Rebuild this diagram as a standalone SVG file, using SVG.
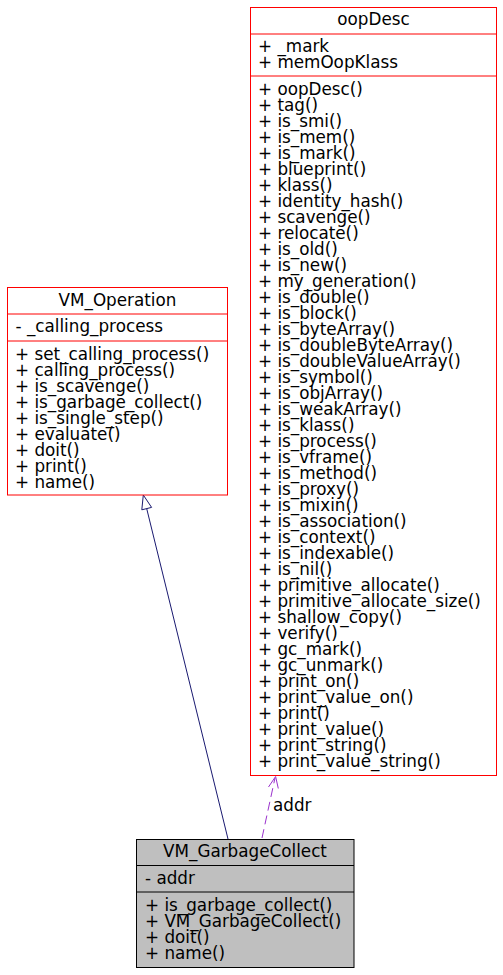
<svg xmlns="http://www.w3.org/2000/svg" width="503" height="975" viewBox="0 0 503 975">
<style>
text{font-family:"DejaVu Sans","Liberation Sans",sans-serif;font-size:16.8px;fill:#000}
.t{text-anchor:middle}
.box{fill:#fff;stroke:#ff0000;stroke-width:1}
.sep{stroke:#ff0000;stroke-width:1}
.gbox{fill:#bfbfbf;stroke:#000;stroke-width:1}
.gsep{stroke:#000;stroke-width:1}
</style>
<rect width="503" height="975" fill="#fff"/>
<g id="connectors">
<line x1="228" y1="839" x2="146.7" y2="508.6" stroke="#191970" stroke-width="1"/>
<polygon points="143.3,495 151.6,507.4 141.8,509.8" fill="#fff" stroke="#191970" stroke-width="1"/>
<line x1="262" y1="838" x2="275" y2="778" stroke="#9a32cd" stroke-width="1" stroke-dasharray="9,5"/>
<polyline points="268.5,787 275.6,776.5 278.3,788.5" fill="none" stroke="#9a32cd" stroke-width="1"/>
<text x="273" y="811">addr</text>
</g>
<g id="oopDesc">
<rect class="box" x="250.5" y="7.5" width="246" height="768"/>
<line class="sep" x1="250.5" y1="34" x2="496.5" y2="34"/>
<line class="sep" x1="250.5" y1="76" x2="496.5" y2="76"/>
<text class="t" x="373.5" y="25">oopDesc</text>
<text x="258"><tspan x="258" y="52">+ _mark</tspan><tspan x="258" y="68">+ memOopKlass</tspan></text>
<text x="258"><tspan x="258" y="95">+ oopDesc()</tspan><tspan x="258" dy="16">+ tag()</tspan><tspan x="258" dy="16">+ is_smi()</tspan><tspan x="258" dy="16">+ is_mem()</tspan><tspan x="258" dy="16">+ is_mark()</tspan><tspan x="258" dy="16">+ blueprint()</tspan><tspan x="258" dy="16">+ klass()</tspan><tspan x="258" dy="16">+ identity_hash()</tspan><tspan x="258" dy="16">+ scavenge()</tspan><tspan x="258" dy="16">+ relocate()</tspan><tspan x="258" dy="16">+ is_old()</tspan><tspan x="258" dy="16">+ is_new()</tspan><tspan x="258" dy="16">+ my_generation()</tspan><tspan x="258" dy="16">+ is_double()</tspan><tspan x="258" dy="16">+ is_block()</tspan><tspan x="258" dy="16">+ is_byteArray()</tspan><tspan x="258" dy="16">+ is_doubleByteArray()</tspan><tspan x="258" dy="16">+ is_doubleValueArray()</tspan><tspan x="258" dy="16">+ is_symbol()</tspan><tspan x="258" dy="16">+ is_objArray()</tspan><tspan x="258" dy="16">+ is_weakArray()</tspan><tspan x="258" dy="16">+ is_klass()</tspan><tspan x="258" dy="16">+ is_process()</tspan><tspan x="258" dy="16">+ is_vframe()</tspan><tspan x="258" dy="16">+ is_method()</tspan><tspan x="258" dy="16">+ is_proxy()</tspan><tspan x="258" dy="16">+ is_mixin()</tspan><tspan x="258" dy="16">+ is_association()</tspan><tspan x="258" dy="16">+ is_context()</tspan><tspan x="258" dy="16">+ is_indexable()</tspan><tspan x="258" dy="16">+ is_nil()</tspan><tspan x="258" dy="16">+ primitive_allocate()</tspan><tspan x="258" dy="16">+ primitive_allocate_size()</tspan><tspan x="258" dy="16">+ shallow_copy()</tspan><tspan x="258" dy="16">+ verify()</tspan><tspan x="258" dy="16">+ gc_mark()</tspan><tspan x="258" dy="16">+ gc_unmark()</tspan><tspan x="258" dy="16">+ print_on()</tspan><tspan x="258" dy="16">+ print_value_on()</tspan><tspan x="258" dy="16">+ print()</tspan><tspan x="258" dy="16">+ print_value()</tspan><tspan x="258" dy="16">+ print_string()</tspan><tspan x="258" dy="16">+ print_value_string()</tspan></text>
</g>
<g id="VM_Operation">
<rect class="box" x="7.5" y="287.5" width="220" height="207.5"/>
<line class="sep" x1="7.5" y1="314" x2="227.5" y2="314"/>
<line class="sep" x1="7.5" y1="341" x2="227.5" y2="341"/>
<text class="t" x="117.5" y="306">VM_Operation</text>
<text x="15.5" y="332">- _calling_process</text>
<text x="15"><tspan x="15" y="360">+ set_calling_process()</tspan><tspan x="15" dy="16">+ calling_process()</tspan><tspan x="15" dy="16">+ is_scavenge()</tspan><tspan x="15" dy="16">+ is_garbage_collect()</tspan><tspan x="15" dy="16">+ is_single_step()</tspan><tspan x="15" dy="16">+ evaluate()</tspan><tspan x="15" dy="16">+ doit()</tspan><tspan x="15" dy="16">+ print()</tspan><tspan x="15" dy="16">+ name()</tspan></text>
</g>
<g id="VM_GarbageCollect">
<rect class="gbox" x="136.5" y="839.5" width="217.5" height="128"/>
<line class="gsep" x1="136.5" y1="865.5" x2="354" y2="865.5"/>
<line class="gsep" x1="136.5" y1="892" x2="354" y2="892"/>
<text class="t" x="245" y="857">VM_GarbageCollect</text>
<text x="145" y="883.5">- addr</text>
<text x="145"><tspan x="145" y="911">+ is_garbage_collect()</tspan><tspan x="145" dy="16">+ VM_GarbageCollect()</tspan><tspan x="145" dy="16">+ doit()</tspan><tspan x="145" dy="16">+ name()</tspan></text>
</g>
</svg>
